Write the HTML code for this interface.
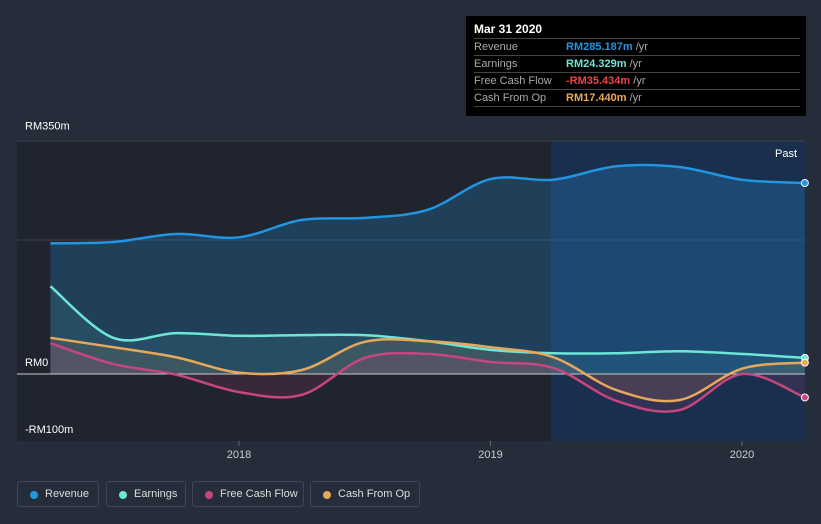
<!DOCTYPE html>
<html><head><meta charset="utf-8"><style>
body{margin:0;background:#262d3a;font-family:"Liberation Sans",sans-serif;}
#wrap{position:relative;width:821px;height:524px;overflow:hidden;background:#262d3a}
svg{position:absolute;left:0;top:0}
.tip{position:absolute;left:466px;top:16px;width:340px;height:100px;background:#000;color:#fff;font-size:11px}
.tip .t{position:absolute;left:8px;top:6px;font-weight:bold;font-size:12px}
.row{position:absolute;left:8px;width:326px;height:17px;border-top:1px solid #444;line-height:17px}
.row span.l{color:#aaa;position:absolute;left:0}
.row span.v{position:absolute;left:92px;font-weight:bold}
.row span.u{color:#aaa;font-weight:normal}
.leg{position:absolute;top:481px;height:26px;border:1px solid #3f4756;border-radius:3px;color:#ddd;font-size:11px;line-height:25px;box-sizing:border-box;padding-left:27px;white-space:nowrap}
.leg i{position:absolute;left:12px;top:9px;width:8px;height:8px;border-radius:50%}
</style></head><body>
<div id="wrap">
<svg id="s" width="821" height="524"></svg>
<div class="tip">
<div class="t">Mar 31 2020</div>
<div class="row" style="top:22px"><span class="l">Revenue</span><span class="v" style="color:#2394df">RM285.187m <span class="u">/yr</span></span></div>
<div class="row" style="top:39px"><span class="l">Earnings</span><span class="v" style="color:#6ee6d6">RM24.329m <span class="u">/yr</span></span></div>
<div class="row" style="top:56px"><span class="l">Free Cash Flow</span><span class="v" style="color:#e84545">-RM35.434m <span class="u">/yr</span></span></div>
<div class="row" style="top:73px"><span class="l">Cash From Op</span><span class="v" style="color:#e8a85a">RM17.440m <span class="u">/yr</span></span></div>
<div class="row" style="top:90px;height:0"></div>
</div>
<div class="leg" style="left:17px;width:82px"><i style="background:#2394df"></i>Revenue</div>
<div class="leg" style="left:106px;width:80px"><i style="background:#6ee6d6"></i>Earnings</div>
<div class="leg" style="left:192px;width:112px"><i style="background:#c8467e"></i>Free Cash Flow</div>
<div class="leg" style="left:310px;width:110px"><i style="background:#e8a85a"></i>Cash From Op</div>
</div>
<script>
const dates=[2017.25,2017.5,2017.75,2018,2018.25,2018.5,2018.75,2019,2019.25,2019.5,2019.75,2020,2020.25];
const revenue=[195,197,209,204,230,233,245,291,290,310,309,290,285];
const earnings=[131,54,61,57,58,58,49,36,31,31,34,30,24];
const fcf=[46,15,-1,-27,-31,24,30,18,9,-40,-54,0,-35];
const cfo=[54,40,25,2,6,48,49,40,25,-24,-39,8,17];
const yTicks=[350,0,-100];const yTickLabels=["RM350m","RM0","-RM100m"];
const xTicks=[2018,2019,2020];
const X=d=>239+(d-2018)*251.5, Y=v=>374-v*0.67;
const s=document.getElementById('s'),NS='http://www.w3.org/2000/svg';
function mk(t,a,p){const e=document.createElementNS(NS,t);for(const k in a)e.setAttribute(k,a[k]);(p||s).appendChild(e);return e;}
let e;
e=mk('rect',{x:17,y:141,width:534,height:300,fill:'#1f242e'});

e=mk('rect',{x:551,y:141,width:254,height:300,fill:'#1a2f4d'});

mk('line',{x1:17,x2:805,y1:141,y2:141,stroke:'#3a4250'});
mk('line',{x1:17,x2:805,y1:Y(200),y2:Y(200),stroke:'#3a4250'});
yTicks.forEach((v,i)=>{e=mk('text',{x:25,y:Y(v)-8+(v==350?-2:0),fill:'#fff','font-size':11});e.textContent=yTickLabels[i];
});
xTicks.forEach(v=>{mk('line',{x1:X(v),x2:X(v),y1:441,y2:446,stroke:'#666'});e=mk('text',{x:X(v),y:458,fill:'#ccc','font-size':11,'text-anchor':'middle'});e.textContent=v;
});
e=mk('text',{x:797,y:157,fill:'#fff','font-size':11,'text-anchor':'end'});e.textContent='Past';

function path(vals){const p=vals.map((v,i)=>[X(dates[i]),Y(v)]);let d='M'+p[0];
for(let i=0;i<p.length-1;i++){const p0=p[i-1]||p[i],p1=p[i],p2=p[i+1],p3=p[i+2]||p2;
d+=`C${p1[0]+(p2[0]-p0[0])/6},${p1[1]+(p2[1]-p0[1])/6} ${p2[0]-(p3[0]-p1[0])/6},${p2[1]-(p3[1]-p1[1])/6} ${p2[0]},${p2[1]}`;}return d;}
const series=[[revenue,'#2394df','revenue',0.25],[earnings,'#6ee6d6','earnings',0.08],[fcf,'#c8467e','free-cash-flow',0.15],[cfo,'#e8a85a','cash-from-op',0.12]];
series.forEach(([v,c,n,o])=>{const d=path(v);
e=mk('path',{d:d+`L${X(dates[dates.length-1])},${Y(0)}L${X(dates[0])},${Y(0)}Z`,fill:c,'fill-opacity':o});
});
mk('line',{x1:17,x2:805,y1:Y(0),y2:Y(0),stroke:'#ccc','stroke-width':1});
series.forEach(([v,c,n])=>{e=mk('path',{d:path(v),fill:'none',stroke:c,'stroke-width':2.5});

e=mk('circle',{cx:X(dates[dates.length-1]),cy:Y(v[v.length-1]),r:3.5,fill:c,stroke:'#fff','stroke-width':1});
});
</script>
</body></html>
